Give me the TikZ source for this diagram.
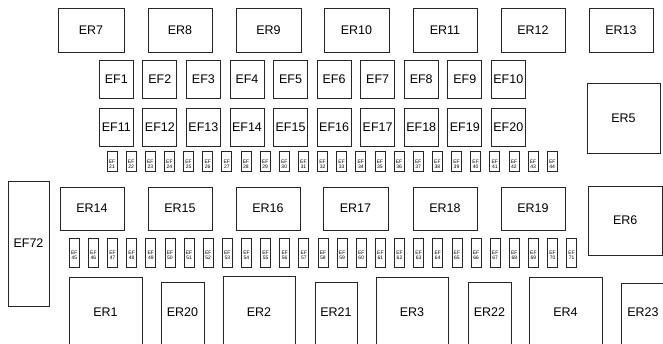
\documentclass[tikz,border=0pt]{standalone}
\usepackage{fontspec}
\setmainfont{Liberation Sans}
\tikzset{
  box/.style={draw=black!85, line width=0.8pt, rectangle, inner sep=0pt, fill=white},
  tiny/.style={font=\fontsize{5}{5.3}\selectfont, align=center, inner sep=0pt},
}
% name, x1, y1, x2, y2, text
\newcommand\bx[6]{%
  \node[box, minimum width={(#4-(#2))*1pt}, minimum height={(#5-(#3))*1pt}] (#1) at ({(#2+#4)/2},{(#3+#5)/2}) {#6};}
% small fuse: name, x1, y1, y2, number
\newcommand\smallfuse[5]{%
  \node[box, minimum width=10pt, minimum height={(#4-(#3))*1pt},
    label={[tiny, anchor=center, yshift=-3pt]center:EF\\#5}] (#1) at ({#2+5},{(#3+#4)/2}) {};}
% bottom open box: name, x1, top, x2, text
\newcommand\bbx[5]{%
  \node[box, anchor=north, minimum width={(#4-(#2))*1pt}, minimum height=90pt,
    label={[anchor=center, yshift={-(311.7-(#3))*1pt}]north:#5}] (#1) at ({(#2+#4)/2},#3) {};}
\begin{document}
\begin{tikzpicture}[x=1pt, y=-1pt, font=\fontsize{12.5}{14}\selectfont]
\useasboundingbox (0,0) rectangle (663,344);
\clip (0,0) rectangle (663,344);
% top relay row
\bx{er7}{58}{8}{124}{52}{ER7}
\bx{er8}{148}{8}{212}{52}{ER8}
\bx{er9}{236}{8}{301}{52}{ER9}
\bx{er10}{324}{8}{389}{52}{ER10}
\bx{er11}{413}{8}{477}{52}{ER11}
\bx{er12}{501}{8}{565}{52}{ER12}
\bx{er13}{589}{8}{653}{52}{ER13}
% EF1-EF10 and EF11-EF20
\foreach \i in {1,...,10}{
  \pgfmathsetmacro\xl{99.3+43.56*(\i-1)}
  \pgfmathtruncatemacro\j{\i+10}
  \bx{ef\i}{\xl}{60}{\xl+34}{98}{EF\i}
  \bx{ef\j}{\xl}{108}{\xl+34}{146}{EF\j}
}
\bx{er5}{587}{83}{660}{153}{ER5}
% EF21-EF44
\foreach \i in {21,...,44}{
  \pgfmathsetmacro\xl{107+19.14*(\i-21)}
  \smallfuse{ef\i}{\xl}{151}{171}{\i}
}
% middle relay row
\bx{er14}{60}{187}{124}{230}{ER14}
\bx{er15}{148}{187}{212}{230}{ER15}
\bx{er16}{236}{187}{300}{230}{ER16}
\bx{er17}{323}{187}{388}{230}{ER17}
\bx{er18}{413}{187}{477}{230}{ER18}
\bx{er19}{501}{187}{565}{230}{ER19}
\bx{er6}{588}{186}{662.5}{255}{ER6}
\bx{ef72}{8}{181}{49}{306}{EF72}
% EF45-EF71
\foreach \i in {45,...,71}{
  \pgfmathsetmacro\xl{69.3+19.13*(\i-45)}
  \smallfuse{ef\i}{\xl}{238}{267}{\i}
}
% bottom relay row
\bbx{er1}{69}{277}{142}{ER1}
\bbx{er20}{161}{282}{204}{ER20}
\bbx{er2}{223}{276}{295}{ER2}
\bbx{er21}{315}{282}{357}{ER21}
\bbx{er3}{376}{277}{448}{ER3}
\bbx{er22}{468}{282}{511}{ER22}
\bbx{er4}{529}{277}{602}{ER4}
\bbx{er23}{621}{283}{665}{ER23}
\end{tikzpicture}
\end{document}
